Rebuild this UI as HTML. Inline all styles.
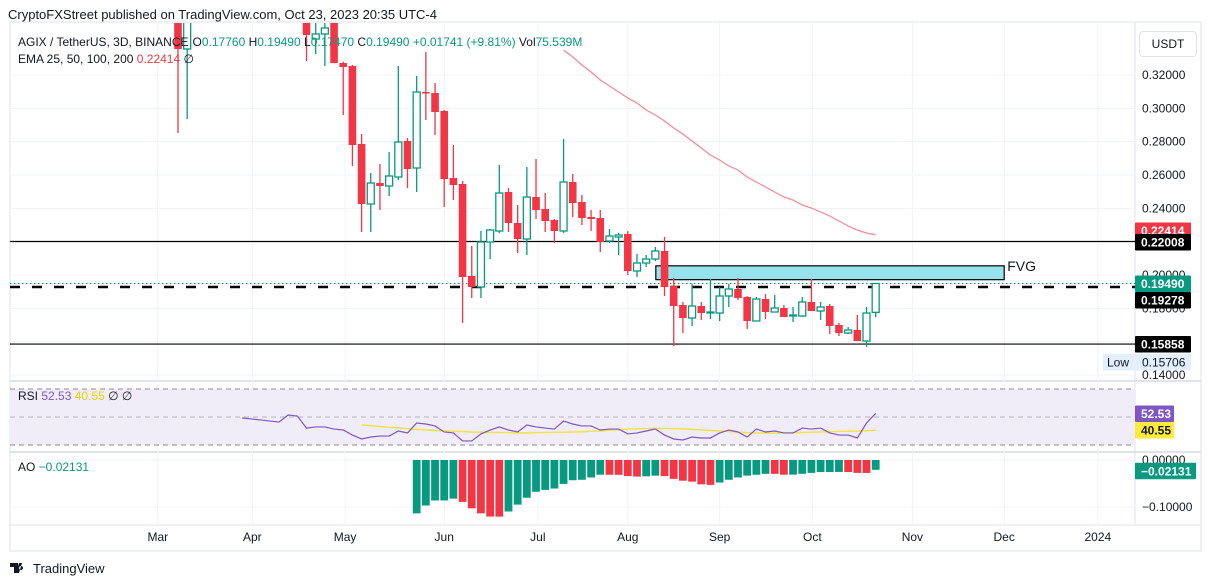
<!DOCTYPE html>
<html><head><meta charset="utf-8"><style>
body{margin:0;background:#fff;}
svg{display:block;font-family:"Liberation Sans",sans-serif;}
</style></head><body>
<svg id="chart" width="1211" height="586" viewBox="0 0 1211 586" xmlns="http://www.w3.org/2000/svg">
<defs>
<clipPath id="mainClip"><rect x="10" y="23" width="1125" height="357"/></clipPath>
</defs>
<text x="8" y="19" font-size="13" fill="#131722">CryptoFXStreet published on TradingView.com, Oct 23, 2023 20:35 UTC-4</text>
<rect x="10" y="22" width="1191" height="529" fill="none" stroke="#e0e3eb"/>
<line x1="1135" y1="22" x2="1135" y2="525" stroke="#e0e3eb"/>
<line x1="10" y1="381" x2="1201" y2="381" stroke="#e0e3eb" stroke-width="2"/>
<line x1="10" y1="452" x2="1201" y2="452" stroke="#e0e3eb" stroke-width="2"/>
<line x1="10" y1="525" x2="1201" y2="525" stroke="#e0e3eb"/>
<g id="grid"></g>
<rect x="10" y="389" width="1125" height="56" fill="#f0edf8"/>
<line x1="10" y1="389" x2="1135" y2="389" stroke="#8a8a96" stroke-dasharray="5,4"/>
<line x1="10" y1="417" x2="1135" y2="417" stroke="#b5b5c0" stroke-dasharray="5,4"/>
<line x1="10" y1="445" x2="1135" y2="445" stroke="#8a8a96" stroke-dasharray="5,4"/>
<g id="main" clip-path="url(#mainClip)"></g>
<g id="rsi"></g>
<g id="ao"></g>
<g id="axes"></g>
<text x="18" y="46" font-size="12" fill="#131722">AGIX / TetherUS, 3D, BINANCE<tspan dx="4">O</tspan><tspan fill="#089981">0.17760</tspan> <tspan fill="#131722">H</tspan><tspan fill="#089981">0.19490</tspan> <tspan fill="#131722">L</tspan><tspan fill="#089981">0.17470</tspan> <tspan fill="#131722">C</tspan><tspan fill="#089981">0.19490</tspan> <tspan fill="#089981">+0.01741 (+9.81%)</tspan> <tspan fill="#131722">Vol</tspan><tspan fill="#089981">75.539M</tspan></text>
<text x="18" y="63" font-size="12" fill="#131722">EMA 25, 50, 100, 200 <tspan fill="#f23645">0.22414</tspan> ∅</text>
<text x="18" y="400" font-size="12" fill="#131722">RSI <tspan fill="#7e57c2">52.53</tspan> <tspan fill="#f0d400">40.55</tspan> ∅ ∅</text>
<text x="18" y="471" font-size="12" fill="#131722">AO <tspan fill="#089981">−0.02131</tspan></text>
<rect x="1139.5" y="31.5" width="57" height="25" rx="4" fill="#fff" stroke="#e0e3eb"/>
<text x="1168" y="48" font-size="12" fill="#131722" text-anchor="middle">USDT</text>
<g>
<path d="M10 563h8v10h-4v-6h-4z M19 563h3l-3 10h-3z M21 566a2 2 0 1 0 .1 0z" fill="#131722"/>
<text x="33" y="573" font-size="13" fill="#131722">TradingView</text>
</g>
</svg>
<script>
const ns="http://www.w3.org/2000/svg";
const opens=[0.359,0.3356,0.38,0.40,0.42,0.41,0.43,0.44,0.42,0.40,0.39,0.41,0.38,0.37,0.353,0.3416,0.3446,0.353,0.3272,0.3254,0.2786,0.2426,0.2552,0.2534,0.2588,0.2804,0.2642,0.3098,0.3092,0.2984,0.2582,0.2546,0.1994,0.1928,0.2198,0.2264,0.2498,0.2312,0.2216,0.2468,0.2396,0.233,0.2264,0.2558,0.2438,0.2348,0.2342,0.2204,0.2228,0.2246,0.2024,0.2072,0.2096,0.2144,0.1934,0.182,0.1742,0.1814,0.1772,0.1772,0.1874,0.1916,0.1868,0.1724,0.1856,0.1778,0.1802,0.1754,0.1754,0.1838,0.1784,0.1814,0.17,0.1652,0.167,0.1604,0.1776];
const highs=[0.362,0.375,0.41,0.43,0.45,0.44,0.46,0.46,0.45,0.43,0.42,0.43,0.40,0.39,0.356,0.356,0.352,0.356,0.328,0.326,0.2846,0.2612,0.2666,0.2738,0.3254,0.2822,0.3194,0.3338,0.3152,0.299,0.278,0.2564,0.2174,0.2264,0.2276,0.266,0.2522,0.242,0.2648,0.2696,0.2492,0.2336,0.2816,0.2606,0.248,0.239,0.239,0.2276,0.2252,0.2264,0.2126,0.212,0.2168,0.2228,0.1982,0.1838,0.1946,0.1838,0.1976,0.1928,0.1946,0.1982,0.1874,0.1868,0.1886,0.188,0.182,0.1808,0.1868,0.1976,0.1838,0.1826,0.1712,0.1688,0.176,0.1808,0.1949];
const lows=[0.2852,0.2936,0.37,0.38,0.40,0.39,0.41,0.42,0.40,0.38,0.37,0.38,0.365,0.36,0.3284,0.3326,0.3254,0.327,0.296,0.2654,0.2258,0.2258,0.239,0.2474,0.257,0.2522,0.2498,0.293,0.284,0.2408,0.245,0.1712,0.1862,0.1862,0.2096,0.2252,0.2258,0.2132,0.212,0.2336,0.2258,0.2192,0.2252,0.2348,0.23,0.2264,0.2138,0.2192,0.212,0.2,0.1988,0.2048,0.2084,0.1874,0.1574,0.1652,0.1694,0.173,0.1736,0.1724,0.1808,0.185,0.1676,0.1724,0.1736,0.1778,0.1748,0.1718,0.1748,0.1784,0.173,0.1646,0.1634,0.1646,0.1604,0.1568,0.1747];
const closes=[0.3356,0.37,0.40,0.42,0.41,0.43,0.44,0.42,0.40,0.39,0.41,0.38,0.37,0.36,0.344,0.3446,0.3482,0.3272,0.3248,0.278,0.2426,0.2552,0.2534,0.2594,0.2798,0.2636,0.3098,0.3092,0.2978,0.2576,0.254,0.1988,0.1928,0.2198,0.227,0.2492,0.2312,0.2216,0.2468,0.239,0.2324,0.2264,0.2558,0.2432,0.2342,0.2336,0.2198,0.2234,0.224,0.2024,0.2072,0.2096,0.2144,0.1928,0.1814,0.1742,0.1814,0.1772,0.1778,0.1874,0.1916,0.1862,0.1724,0.1856,0.1778,0.1802,0.1748,0.176,0.1838,0.1784,0.1808,0.1694,0.1652,0.167,0.1604,0.1772,0.1949];
const emaStart=42;
const emaValues=[0.335,0.3308,0.326,0.3218,0.317,0.3134,0.3098,0.3062,0.3032,0.299,0.296,0.2924,0.2882,0.2846,0.2804,0.2762,0.272,0.269,0.2654,0.263,0.2588,0.2558,0.2528,0.2498,0.2468,0.245,0.242,0.2402,0.2378,0.2354,0.2324,0.2294,0.227,0.2252,0.2241];
const rsiStart=7;
const rsiValues=[49.3,48.6,47.9,47.1,46.4,51.4,50.7,42.1,42.9,42.9,41.4,40.7,37.1,34.3,35.7,36.4,36.4,40,38.6,45.7,45,43.6,39.3,38.6,32.9,32.9,37.9,40.7,42.9,40.7,39.3,44.3,42.9,42.1,41.4,47.1,45,43.6,43.6,40.7,41.4,41.4,37.9,38.6,40,41.4,37.1,34.3,33.6,35.7,35,35,38.6,40.7,39.3,35.7,41.4,39.3,40,38.6,38.6,42.1,41.4,42.1,38.6,37.1,37.1,35,45.7,52.53];
const rsiMaStart=20;
const rsiMaValues=[44.3,43.8,43.2,42.7,42.2,41.6,41.2,40.8,40.4,40.1,39.8,39.6,39.3,39.2,39.0,38.9,38.8,38.7,38.7,38.8,38.9,39.0,39.1,39.3,39.5,39.8,40.1,40.5,40.9,41.3,41.6,41.8,41.9,41.9,41.7,41.5,41.2,40.8,40.4,40.0,39.6,39.2,38.8,38.6,38.5,38.5,38.6,38.7,38.9,39.1,39.3,39.5,39.7,39.8,39.9,40.2,40.55];
const aoStart=26;
const aoValues=[-0.116,-0.099,-0.088,-0.0879,-0.084,-0.091,-0.105,-0.116,-0.123,-0.1231,-0.112,-0.097,-0.082,-0.069,-0.065,-0.062,-0.052,-0.044,-0.043,-0.038,-0.032,-0.0321,-0.0322,-0.035,-0.036,-0.0355,-0.034,-0.035,-0.041,-0.045,-0.047,-0.053,-0.054,-0.049,-0.043,-0.038,-0.034,-0.032,-0.030,-0.0301,-0.032,-0.0318,-0.030,-0.028,-0.0262,-0.0261,-0.026,-0.0262,-0.028,-0.0281,-0.0213];
const priceTicks=[0.32,0.30,0.28,0.26,0.24,0.20,0.18,0.16,0.14];
const priceTickLabels=["0.32000","0.30000","0.28000","0.26000","0.24000","0.20000","0.18000","0.16000","0.14000"];
const monthLabels=["Mar","Apr","May","Jun","Jul","Aug","Sep","Oct","Nov","Dec","2024"];
const monthIdx=[-2.2,8.1,18.2,29.0,39.2,49.0,59.0,69.1,80.0,90.0,100.2];
const levels=[0.22008,0.15858];
const dashedLevel=0.19278;
const lastPrice=0.1949;
const fvgTop=0.2055, fvgBottom=0.1972, fvgFrom=52.05, fvgTo=90.0;

const X=i=>178+9.18*i;
const Y=p=>75+(0.32-p)*1666.7;
const RY=r=>417-(r-50)*1.4;
const AY=v=>460-v*460;
const G="#089981",R="#f23645";
function el(tag,attrs,parent){const e=document.createElementNS(ns,tag);for(const k in attrs)e.setAttribute(k,attrs[k]);parent.appendChild(e);return e;}
const grid=document.getElementById('grid'),main=document.getElementById('main'),rsi=document.getElementById('rsi'),ao=document.getElementById('ao'),axes=document.getElementById('axes');
priceTicks.forEach((p,k)=>{
 const l=el('line',{x1:10,x2:1135,y1:Y(p),y2:Y(p),stroke:'#f0f3fa'},grid);
 
 
 const t=el('text',{x:1142,y:Y(p)+4,'font-size':12,fill:'#131722'},axes);
 t.textContent=priceTickLabels[k];
 
 
});
[460,507].forEach(y=>{const l=el('line',{x1:10,x2:1135,y1:y,y2:y,stroke:'#f0f3fa'},grid);
 
 });
monthLabels.forEach((m,k)=>{
 const x=X(monthIdx[k]);
 const l=el('line',{x1:x,x2:x,y1:23,y2:525,stroke:'#f0f3fa'},grid);
 
 
 const t=el('text',{x:x,y:541,'font-size':12,fill:'#131722','text-anchor':'middle'},axes);
 t.textContent=m;
 
 
});
let d='';emaValues.forEach((v,k)=>{d+=(k?'L':'M')+X(emaStart+k)+' '+Y(v)});
const ema=el('path',{d:d,fill:'none',stroke:'#f7525f','stroke-opacity':0.7,'stroke-width':1.2},main);


levels.forEach(p=>{const l=el('line',{x1:10,x2:1135,y1:Y(p),y2:Y(p),stroke:'#000','stroke-width':1.2},main);
 
 });
const dl=el('line',{x1:10,x2:1135,y1:Y(dashedLevel),y2:Y(dashedLevel),stroke:'#000','stroke-width':2.5,'stroke-dasharray':'10,12'},main);


const lp=el('line',{x1:10,x2:1135,y1:Y(lastPrice),y2:Y(lastPrice),stroke:G,'stroke-dasharray':'1.5,2.5'},main);


const fv=el('rect',{x:X(fvgFrom),y:Y(fvgTop),width:X(fvgTo)-X(fvgFrom),height:Y(fvgBottom)-Y(fvgTop),fill:'#97e3ed',stroke:'#000','stroke-width':1.2},main);


const ft=el('text',{x:X(fvgTo)+3,y:Y(fvgTop)+5,'font-size':14,fill:'#131722'},main);
ft.textContent='FVG';


opens.forEach((o,i)=>{
 const c=closes[i],up=c>=o,col=up?G:R,x=X(i);
 const g=el('g',{},main);
 
 
 const top=Y(Math.max(o,c)),bot=Y(Math.min(o,c));
 if(up){
  el('line',{x1:x,x2:x,y1:Y(highs[i]),y2:top,stroke:col,'stroke-width':1.3},g);
  el('line',{x1:x,x2:x,y1:bot,y2:Y(lows[i]),stroke:col,'stroke-width':1.3},g);
  el('rect',{x:x-3.5,y:top,width:7,height:Math.max(bot-top,1),fill:'#fff',stroke:col,'stroke-width':1.3},g);
 }else{
  el('line',{x1:x,x2:x,y1:Y(highs[i]),y2:Y(lows[i]),stroke:col,'stroke-width':1.3},g);
  el('rect',{x:x-3.8,y:top,width:7.6,height:Math.max(bot-top,1.5),fill:col},g);
 }
});
d='';rsiMaValues.forEach((v,k)=>{d+=(k?'L':'M')+X(rsiMaStart+k)+' '+RY(v)});
const rm=el('path',{d:d,fill:'none',stroke:'#f5e34a','stroke-width':1.5},rsi);


d='';rsiValues.forEach((v,k)=>{d+=(k?'L':'M')+X(rsiStart+k)+' '+RY(v)});
const rl=el('path',{d:d,fill:'none',stroke:'#7e57c2','stroke-width':1.2},rsi);


aoValues.forEach((v,k)=>{
 const col=(k===0||v>aoValues[k-1])?G:R;
 const x=X(aoStart+k);
 const b=el('rect',{x:x-3.9,y:AY(0),width:7.8,height:AY(v)-AY(0),fill:col},ao);
 
 
});
function badge(y,bg,fg,txt,name,w){
 const g=el('g',{},axes);
 
 
 el('rect',{x:1135,y:y-8,width:w||56,height:16.5,fill:bg,rx:1},g);
 const t=el('text',{x:1141,y:y+4.5,'font-size':12,fill:fg,'font-weight':'bold'},g);t.textContent=txt;
}
badge(Y(0.22414)-4.3,R,'#fff','0.22414','ema-price-badge');
badge(Y(0.22008)+0.5,'#000','#fff','0.22008','level-badge-upper');
badge(Y(lastPrice),G,'#fff','0.19490','last-price-badge');
badge(Y(lastPrice)+16.5,'#000','#fff','0.19278','dashed-level-badge');
badge(Y(0.15858),'#000','#fff','0.15858','level-badge-lower');
const lowBg=el('rect',{x:1103,y:354,width:31,height:16.5,fill:'#e3effd'},axes);


const lowBg2=el('rect',{x:1135,y:354,width:56,height:16.5,fill:'#e3effd'},axes);


const lowT=el('text',{x:1107,y:366.5,'font-size':12,fill:'#131722'},axes);lowT.textContent='Low';


const lowV=el('text',{x:1142,y:366.5,'font-size':12,fill:'#131722'},axes);lowV.textContent='0.15706';


badge(RY(52.53),'#7e57c2','#fff','52.53','rsi-badge',39);
badge(RY(52.53)+16.5,'#ffeb3b','#131722','40.55','rsi-ma-badge',39);
const z=el('text',{x:1142,y:464,'font-size':12,fill:'#131722'},axes);z.textContent='0.00000';


const m=el('text',{x:1142,y:511,'font-size':12,fill:'#131722'},axes);m.textContent='−0.10000';


badge(AY(-0.02131)+1,G,'#fff','−0.02131','ao-badge',61);
</script>
</body></html>
